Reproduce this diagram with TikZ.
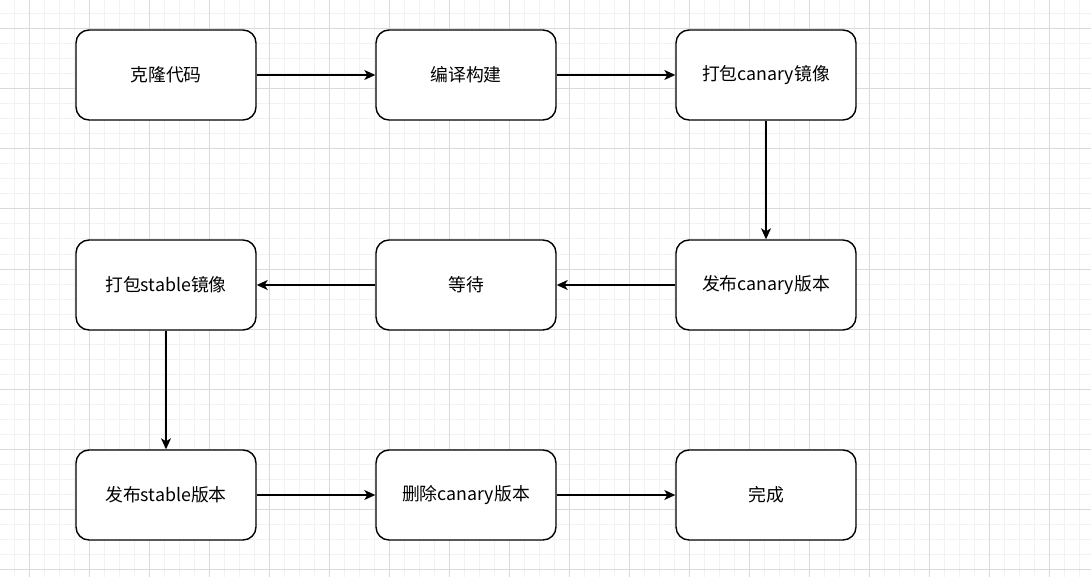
\documentclass[tikz,border=0pt]{standalone}
\usepackage{fontspec}
\setmainfont{Noto Sans CJK SC}
\usetikzlibrary{arrows.meta}
\definecolor{gridminor}{HTML}{F2F2F2}
\definecolor{gridmajor}{HTML}{DADADA}
\tikzset{
  box/.style={draw=black, line width=1.4pt, rounded corners=13pt, fill=white,
    minimum width=180pt, minimum height=90pt, inner sep=0pt,
    font=\fontsize{17.8}{20}\selectfont},
  conn/.style={line width=1.4pt, -{Stealth[length=11pt,width=10pt,inset=3pt]}}
}
\begin{document}
\begin{tikzpicture}[x=1pt,y=-1pt]
\useasboundingbox (0,0) rectangle (1091,577);
\fill[white] (0,0) rectangle (1091,577);
\foreach \i in {0,...,73} {
  \draw[gridminor, line width=1pt] ({14+15*\i},0) -- ({14+15*\i},577);
}
\foreach \i in {0,...,38} {
  \draw[gridminor, line width=1pt] (0,{14+15*\i}) -- (1091,{14+15*\i});
}
\foreach \i in {0,...,18} {
  \draw[gridmajor, line width=1pt] ({29+60*\i},0) -- ({29+60*\i},577);
}
\foreach \i in {0,...,9} {
  \draw[gridmajor, line width=1pt] (0,{29+60*\i}) -- (1091,{29+60*\i});
}
\node[box] (a1) at (166,75) {克隆代码};
\node[box] (a2) at (466,75) {编译构建};
\node[box] (a3) at (766,75) {打包canary镜像};
\node[box] (b3) at (766,285) {发布canary版本};
\node[box] (b2) at (466,285) {等待};
\node[box] (b1) at (166,285) {打包stable镜像};
\node[box] (c1) at (166,495) {发布stable版本};
\node[box] (c2) at (466,495) {删除canary版本};
\node[box] (c3) at (766,495) {完成};
\draw[conn] (a1) -- (a2);
\draw[conn] (a2) -- (a3);
\draw[conn] (a3) -- (b3);
\draw[conn] (b3) -- (b2);
\draw[conn] (b2) -- (b1);
\draw[conn] (b1) -- (c1);
\draw[conn] (c1) -- (c2);
\draw[conn] (c2) -- (c3);
\end{tikzpicture}
\end{document}
